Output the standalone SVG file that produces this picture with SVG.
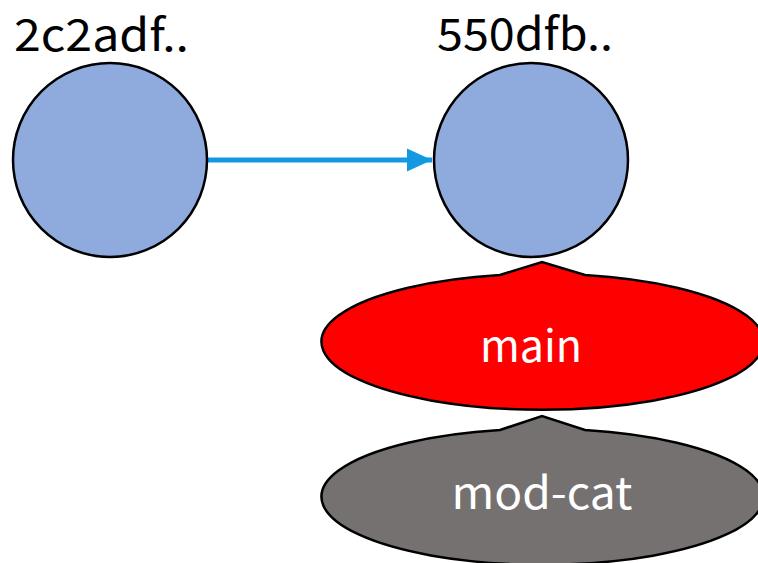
<svg xmlns="http://www.w3.org/2000/svg" width="758" height="563" viewBox="0 0 758 563">
<style>
.commit{fill:#8faadc;stroke:#000;stroke-width:2.5}
.lbl{font-family:"Noto Sans CJK JP","Noto Sans",sans-serif;font-size:44px;fill:#000}
.blbl{font-family:"Noto Sans CJK JP","Noto Sans",sans-serif;font-size:44px;fill:#fff;text-anchor:middle}
.callout{stroke:#000;stroke-width:2.5}
</style>
<defs>
<marker id="ah" markerWidth="6" markerHeight="6" refX="5" refY="3" orient="auto" markerUnits="strokeWidth">
<path d="M0,0.7 L5,3 L0,5.3 Z" fill="#1499e0"/>
</marker>
</defs>
<rect width="758" height="563" fill="#fff"/>
<g id="connectors">
<line x1="207" y1="160" x2="432" y2="160" stroke="#1499e0" stroke-width="5" marker-end="url(#ah)"/>
</g>
<g id="c1">
<circle class="commit" cx="110" cy="160" r="97"/>
<text class="lbl" x="14" y="51" textLength="175" lengthAdjust="spacingAndGlyphs">2c2adf..</text>
</g>
<g id="c2">
<circle class="commit" cx="531" cy="160" r="97"/>
<text class="lbl" x="437" y="50" textLength="176" lengthAdjust="spacingAndGlyphs">550dfb..</text>
</g>
<g id="main">
<path class="callout" fill="#ff0000" d="M500,275 L542,262 L585,275 A221,68 0 1 1 500,275 Z"/>
<text class="blbl" x="531" y="362" textLength="102" lengthAdjust="spacingAndGlyphs">main</text>
</g>
<g id="mod-cat">
<path class="callout" fill="#767171" d="M500,430 L542,416 L585,430 A221,68 0 1 1 500,430 Z"/>
<text class="blbl" x="542" y="509" textLength="181" lengthAdjust="spacingAndGlyphs">mod-cat</text>
</g>
</svg>
